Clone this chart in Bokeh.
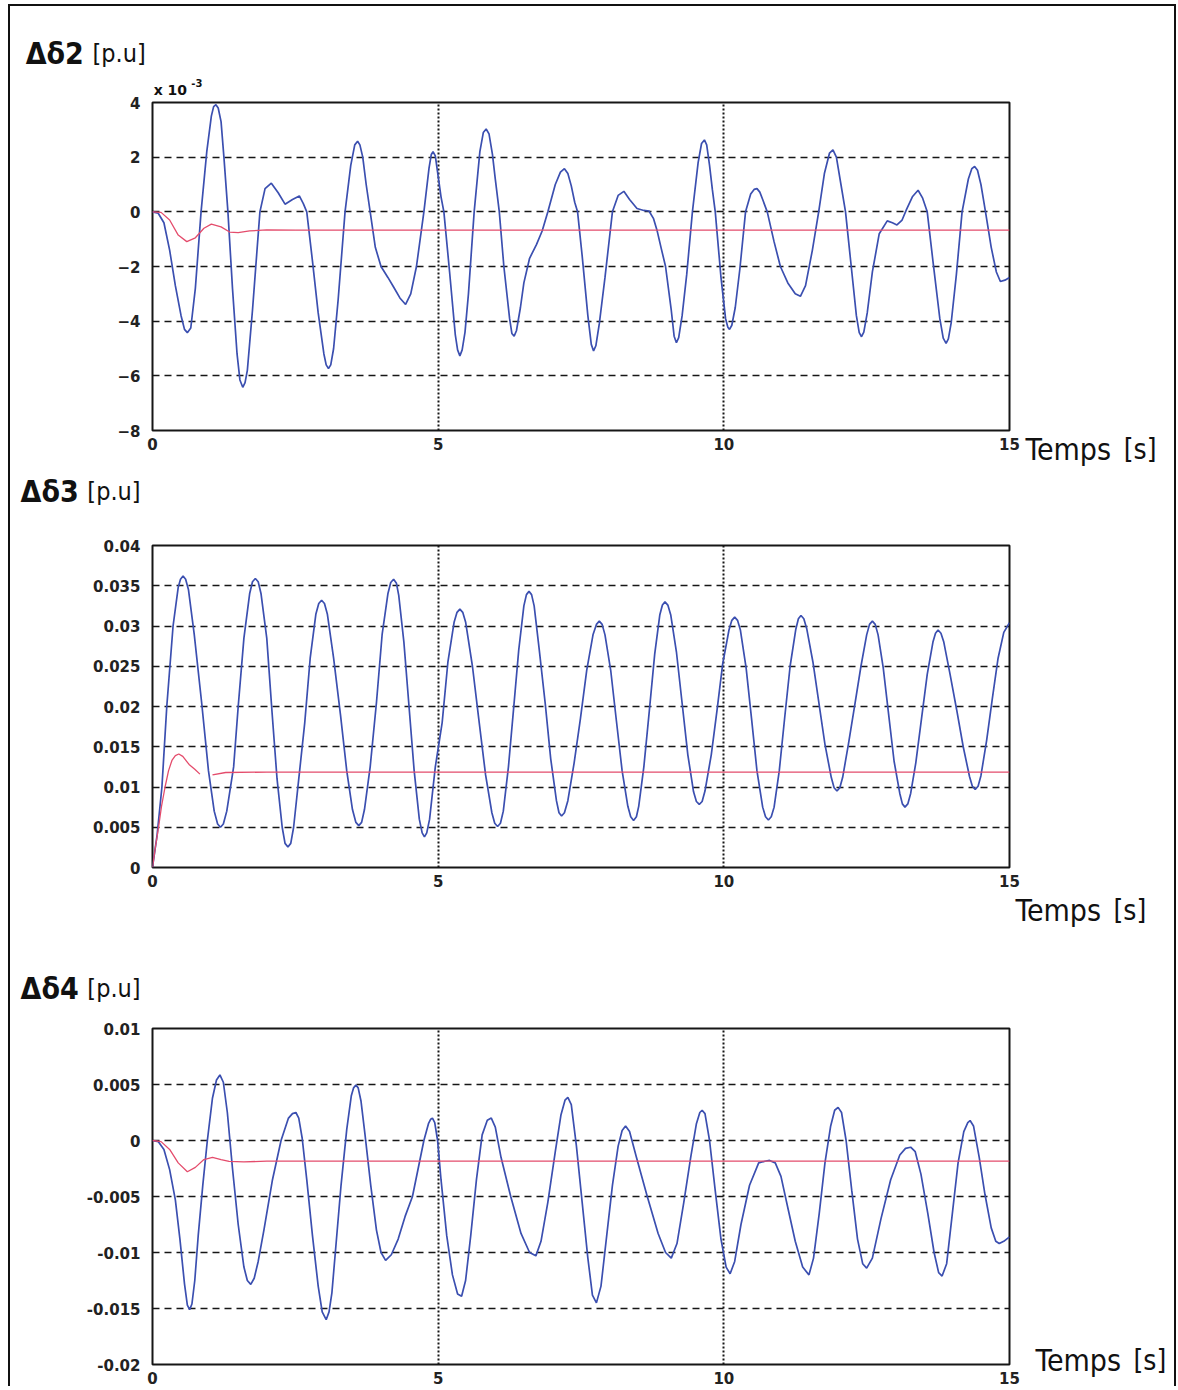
from bokeh.plotting import figure
from bokeh.models import Range1d, FixedTicker, Label
from bokeh.layouts import column
from bokeh.embed import file_html
from bokeh.resources import INLINE

# ---------------- data ----------------
x_ticks = [0, 5, 10, 15]

# Delta delta 2, units of 1e-3 p.u.
d2_ticks = [-8, -6, -4, -2, 0, 2, 4]
d2_sans_commande = [
    (0.00, 0.00), (0.10, -0.05), (0.20, -0.40), (0.30, -1.40), (0.40, -2.70), (0.50, -3.80), (0.56, -4.30),
    (0.61, -4.42), (0.67, -4.25), (0.75, -2.80), (0.85, 0.00), (0.95, 2.20), (1.03, 3.50), (1.07, 3.85),
    (1.11, 3.92), (1.15, 3.80), (1.20, 3.30), (1.25, 2.00), (1.32, 0.00), (1.40, -2.80), (1.48, -5.20),
    (1.53, -6.15), (1.58, -6.42), (1.62, -6.25), (1.66, -5.80), (1.75, -3.60), (1.88, 0.00), (1.97, 0.85),
    (2.08, 1.05), (2.20, 0.70), (2.32, 0.28), (2.45, 0.45), (2.57, 0.58), (2.64, 0.30), (2.70, 0.00),
    (2.80, -1.80), (2.90, -3.70), (3.00, -5.20), (3.04, -5.60), (3.08, -5.73), (3.12, -5.60), (3.17, -5.00),
    (3.25, -3.20), (3.37, 0.00), (3.47, 1.70), (3.54, 2.45), (3.59, 2.58), (3.63, 2.45), (3.68, 2.00),
    (3.74, 1.00), (3.81, 0.00), (3.90, -1.30), (4.00, -2.00), (4.12, -2.40), (4.22, -2.75), (4.33, -3.15),
    (4.43, -3.39), (4.52, -3.00), (4.62, -2.00), (4.75, 0.00), (4.84, 1.60), (4.88, 2.10), (4.91, 2.20),
    (4.95, 2.05), (5.00, 1.30), (5.05, 0.55), (5.10, 0.00), (5.20, -2.20), (5.30, -4.50), (5.34, -5.05),
    (5.38, -5.27), (5.42, -5.05), (5.47, -4.40), (5.53, -3.00), (5.63, 0.00), (5.73, 2.20), (5.79, 2.90),
    (5.84, 3.03), (5.89, 2.85), (5.95, 2.10), (6.00, 1.20), (6.07, 0.00), (6.15, -2.00), (6.25, -3.90),
    (6.29, -4.45), (6.33, -4.55), (6.37, -4.35), (6.44, -3.50), (6.50, -2.60), (6.60, -1.70), (6.72, -1.20),
    (6.82, -0.70), (6.92, 0.00), (7.05, 1.00), (7.14, 1.45), (7.21, 1.58), (7.27, 1.40), (7.33, 0.95),
    (7.39, 0.35), (7.44, 0.00), (7.52, -1.60), (7.62, -3.80), (7.68, -4.85), (7.72, -5.09), (7.76, -4.90),
    (7.82, -4.10), (7.92, -2.40), (8.05, 0.00), (8.15, 0.60), (8.25, 0.75), (8.35, 0.45), (8.48, 0.12),
    (8.60, 0.05), (8.69, 0.03), (8.77, -0.25), (8.83, -0.67), (8.90, -1.30), (8.98, -2.00), (9.08, -3.60),
    (9.13, -4.55), (9.17, -4.79), (9.21, -4.60), (9.27, -3.80), (9.35, -2.30), (9.45, 0.00), (9.55, 1.80),
    (9.61, 2.50), (9.66, 2.63), (9.70, 2.45), (9.75, 1.70), (9.80, 0.80), (9.85, 0.00), (9.95, -2.40),
    (10.03, -3.90), (10.07, -4.22), (10.10, -4.30), (10.14, -4.15), (10.20, -3.50), (10.28, -2.10),
    (10.38, 0.00), (10.47, 0.65), (10.53, 0.82), (10.58, 0.85), (10.63, 0.72), (10.68, 0.45), (10.76, 0.00),
    (10.88, -1.10), (10.99, -2.00), (11.12, -2.60), (11.25, -3.00), (11.34, -3.09), (11.43, -2.70),
    (11.55, -1.40), (11.66, 0.00), (11.76, 1.40), (11.85, 2.15), (11.91, 2.27), (11.97, 2.00), (12.05, 1.00),
    (12.13, 0.00), (12.22, -1.80), (12.32, -3.80), (12.37, -4.42), (12.41, -4.57), (12.45, -4.40),
    (12.51, -3.70), (12.60, -2.20), (12.72, -0.80), (12.86, -0.33), (12.95, -0.40), (13.03, -0.48),
    (13.12, -0.30), (13.20, 0.10), (13.30, 0.55), (13.40, 0.79), (13.48, 0.50), (13.56, 0.00), (13.66, -1.80),
    (13.78, -3.90), (13.84, -4.62), (13.89, -4.81), (13.93, -4.65), (13.98, -4.05), (14.07, -2.30),
    (14.17, 0.00), (14.28, 1.20), (14.34, 1.58), (14.39, 1.66), (14.44, 1.52), (14.50, 1.00), (14.54, 0.50),
    (14.58, 0.00), (14.68, -1.30), (14.77, -2.20), (14.84, -2.55), (14.92, -2.50), (15.00, -2.40),
]
d2_avec_commande = [
    (0.00, 0.00), (0.15, -0.02), (0.30, -0.30), (0.45, -0.85), (0.60, -1.09), (0.75, -0.95), (0.90, -0.60),
    (1.03, -0.45), (1.20, -0.55), (1.35, -0.74), (1.50, -0.76), (1.70, -0.70), (2.00, -0.66), (2.50, -0.67),
    (15.00, -0.67),
]

# Delta delta 3, p.u.
d3_ticks = [0, 0.005, 0.01, 0.015, 0.02, 0.025, 0.03, 0.035, 0.04]
d3_tick_labels = ["0", "0.005", "0.01", "0.015", "0.02", "0.025", "0.03", "0.035", "0.04"]
d3_sans_commande = [
    (0.00, 0.0), (0.08, 4.0), (0.165, 10.0), (0.25, 20.0), (0.36, 30.0), (0.45, 34.8), (0.49, 35.8),
    (0.535, 36.2), (0.58, 35.8), (0.63, 34.5), (0.73, 29.0), (0.86, 20.5), (0.98, 12.0), (1.08, 7.0),
    (1.14, 5.4), (1.19, 5.0), (1.24, 5.4), (1.30, 7.0), (1.42, 12.5), (1.50, 20.0), (1.60, 28.5),
    (1.70, 34.0), (1.75, 35.5), (1.80, 35.9), (1.85, 35.5), (1.90, 34.0), (2.00, 28.5), (2.09, 19.5),
    (2.18, 11.0), (2.27, 5.0), (2.32, 3.0), (2.37, 2.55), (2.42, 3.0), (2.47, 5.0), (2.56, 11.0),
    (2.665, 18.0), (2.76, 26.0), (2.86, 31.5), (2.91, 32.8), (2.96, 33.2), (3.01, 32.8), (3.06, 31.5),
    (3.17, 26.0), (3.29, 19.0), (3.40, 12.0), (3.50, 7.2), (3.56, 5.6), (3.61, 5.2), (3.66, 5.6),
    (3.71, 7.2), (3.81, 12.5), (3.92, 20.5), (4.02, 29.0), (4.12, 34.0), (4.17, 35.4), (4.22, 35.8),
    (4.27, 35.3), (4.31, 33.8), (4.40, 28.0), (4.49, 20.0), (4.58, 12.0), (4.67, 6.0), (4.72, 4.3),
    (4.76, 3.8), (4.80, 4.3), (4.85, 6.0), (4.95, 12.5), (5.07, 18.0), (5.17, 25.5), (5.28, 30.5),
    (5.33, 31.7), (5.38, 32.1), (5.43, 31.7), (5.48, 30.5), (5.60, 25.0), (5.71, 18.5), (5.83, 11.5),
    (5.94, 6.8), (5.99, 5.5), (6.04, 5.1), (6.09, 5.5), (6.14, 7.0), (6.23, 12.5), (6.32, 19.7),
    (6.41, 27.0), (6.50, 32.5), (6.545, 33.9), (6.59, 34.3), (6.635, 33.9), (6.68, 32.5), (6.77, 27.0),
    (6.875, 20.3), (6.97, 13.5), (7.07, 8.3), (7.115, 6.8), (7.16, 6.4), (7.21, 6.8), (7.27, 8.3),
    (7.38, 13.0), (7.49, 18.5), (7.60, 24.5), (7.71, 28.9), (7.77, 30.2), (7.82, 30.6), (7.87, 30.2),
    (7.92, 28.9), (8.02, 24.5), (8.12, 18.2), (8.22, 12.0), (8.32, 7.6), (8.37, 6.3), (8.42, 5.85),
    (8.47, 6.3), (8.51, 7.6), (8.60, 12.5), (8.695, 19.4), (8.79, 26.5), (8.88, 31.4), (8.925, 32.6),
    (8.97, 33.0), (9.02, 32.6), (9.07, 31.4), (9.17, 26.8), (9.27, 20.4), (9.37, 14.0), (9.47, 9.4),
    (9.52, 8.2), (9.57, 7.85), (9.62, 8.2), (9.67, 9.5), (9.78, 14.0), (9.88, 19.5), (9.98, 25.3),
    (10.09, 29.5), (10.14, 30.7), (10.19, 31.1), (10.24, 30.7), (10.29, 29.5), (10.39, 24.8),
    (10.485, 18.5), (10.58, 12.0), (10.68, 7.5), (10.73, 6.3), (10.78, 5.9), (10.83, 6.3), (10.88, 7.5),
    (10.97, 12.0), (11.065, 18.6), (11.16, 25.0), (11.26, 29.6), (11.305, 30.9), (11.35, 31.3),
    (11.40, 30.9), (11.45, 29.7), (11.56, 25.5), (11.665, 20.4), (11.77, 15.3), (11.88, 11.2),
    (11.93, 9.9), (11.98, 9.5), (12.03, 9.9), (12.08, 11.2), (12.18, 15.3), (12.29, 20.1), (12.40, 25.0),
    (12.50, 28.9), (12.55, 30.2), (12.60, 30.6), (12.65, 30.2), (12.70, 28.9), (12.79, 24.8),
    (12.885, 19.0), (12.98, 13.2), (13.08, 9.2), (13.125, 7.9), (13.17, 7.5), (13.22, 7.9), (13.27, 9.2),
    (13.36, 13.0), (13.46, 18.5), (13.56, 24.0), (13.66, 28.0), (13.705, 29.1), (13.75, 29.5),
    (13.80, 29.1), (13.85, 28.0), (13.96, 24.0), (14.075, 19.6), (14.19, 15.0), (14.30, 11.3),
    (14.35, 10.1), (14.40, 9.7), (14.45, 10.1), (14.50, 11.4), (14.60, 15.8), (14.70, 21.0), (14.80, 26.0),
    (14.90, 29.2), (15.00, 30.4),
]  # units of 1e-3
d3_avec_commande = [
    (0.00, 0.0), (0.05, 2.5), (0.106, 5.0), (0.16, 7.7), (0.22, 10.0), (0.28, 12.0), (0.34, 13.3),
    (0.40, 13.9), (0.46, 14.1), (0.53, 13.8), (0.64, 12.8), (0.74, 12.2), (0.83, 11.6),
    (0.90, float("nan")),
    (1.05, 11.5), (1.28, 11.8), (2.00, 11.85), (15.00, 11.85),
]  # units of 1e-3

# Delta delta 4, p.u.
d4_ticks = [-0.02, -0.015, -0.01, -0.005, 0, 0.005, 0.01]
d4_tick_labels = ["-0.02", "-0.015", "-0.01", "-0.005", "0", "0.005", "0.01"]
d4_sans_commande = [
    (0.00, 0.0), (0.10, -0.1), (0.20, -0.8), (0.30, -2.6), (0.40, -5.3), (0.48, -8.8), (0.56, -12.8),
    (0.61, -14.7), (0.65, -15.1), (0.69, -14.6), (0.74, -12.5), (0.80, -8.5), (0.88, -4.0), (0.96, 0.0),
    (1.05, 3.8), (1.12, 5.4), (1.18, 5.85), (1.24, 5.2), (1.31, 2.5), (1.40, -2.5), (1.50, -7.5),
    (1.60, -11.3), (1.66, -12.5), (1.72, -12.85), (1.78, -12.3), (1.85, -10.8), (1.95, -8.0), (2.10, -3.5),
    (2.25, 0.0), (2.38, 2.0), (2.45, 2.4), (2.51, 2.5), (2.56, 2.0), (2.62, 0.2), (2.70, -3.5), (2.80, -8.5),
    (2.90, -13.0), (2.97, -15.3), (3.04, -16.0), (3.09, -15.3), (3.14, -13.6), (3.20, -10.0), (3.30, -4.0),
    (3.40, 1.0), (3.48, 4.0), (3.52, 4.7), (3.56, 4.95), (3.60, 4.7), (3.65, 3.5), (3.72, 0.5), (3.82, -4.0),
    (3.92, -8.0), (4.00, -10.0), (4.08, -10.7), (4.18, -10.2), (4.30, -8.8), (4.42, -6.8), (4.55, -5.0),
    (4.65, -2.5), (4.75, 0.0), (4.83, 1.5), (4.87, 1.9), (4.90, 2.0), (4.94, 1.6), (4.99, 0.0), (5.05, -3.5),
    (5.15, -8.5), (5.25, -12.0), (5.34, -13.7), (5.41, -13.9), (5.48, -12.5), (5.57, -8.5), (5.67, -3.5),
    (5.77, 0.5), (5.86, 1.8), (5.93, 2.0), (6.00, 1.2), (6.10, -1.5), (6.27, -5.0), (6.45, -8.3),
    (6.60, -10.0), (6.71, -10.3), (6.80, -9.0), (6.92, -5.5), (7.05, -1.0), (7.15, 2.3), (7.22, 3.6),
    (7.27, 3.85), (7.33, 3.2), (7.42, -0.5), (7.52, -5.5), (7.62, -10.5), (7.70, -13.8), (7.77, -14.5),
    (7.85, -13.0), (7.95, -8.5), (8.05, -4.0), (8.15, -0.5), (8.22, 0.9), (8.28, 1.3), (8.35, 0.8),
    (8.47, -1.5), (8.66, -5.0), (8.85, -8.3), (8.98, -10.0), (9.08, -10.5), (9.18, -9.2), (9.30, -5.5),
    (9.42, -1.5), (9.52, 1.5), (9.58, 2.5), (9.62, 2.7), (9.67, 2.4), (9.75, 0.0), (9.85, -4.5),
    (9.95, -8.8), (10.04, -11.3), (10.11, -11.9), (10.19, -10.8), (10.30, -7.5), (10.45, -4.0),
    (10.61, -2.0), (10.72, -1.85), (10.80, -1.78), (10.90, -2.0), (11.00, -3.2), (11.12, -6.0),
    (11.25, -9.0), (11.38, -11.3), (11.49, -12.0), (11.57, -10.5), (11.67, -6.5), (11.77, -2.0),
    (11.87, 1.3), (11.94, 2.7), (12.00, 2.96), (12.06, 2.5), (12.14, 0.0), (12.24, -4.5), (12.34, -8.8),
    (12.43, -11.0), (12.50, -11.4), (12.60, -10.5), (12.75, -7.0), (12.92, -3.5), (13.08, -1.3),
    (13.18, -0.7), (13.27, -0.6), (13.35, -1.0), (13.45, -3.0), (13.57, -6.5), (13.68, -10.0),
    (13.76, -11.8), (13.82, -12.1), (13.90, -11.0), (14.00, -6.5), (14.10, -2.0), (14.20, 0.8),
    (14.27, 1.6), (14.31, 1.78), (14.37, 1.3), (14.47, -1.5), (14.57, -4.8), (14.68, -7.8), (14.76, -9.0),
    (14.82, -9.2), (14.90, -9.0), (15.00, -8.6),
]  # units of 1e-3
d4_avec_commande = [
    (0.00, 0.0), (0.15, -0.1), (0.30, -0.8), (0.45, -2.0), (0.61, -2.79), (0.75, -2.4), (0.90, -1.7),
    (1.05, -1.51), (1.20, -1.7), (1.34, -1.87), (1.60, -1.9), (2.00, -1.85), (15.00, -1.85),
]  # units of 1e-3

# ---------------- styling ----------------
BLUE = "#3b4fb0"
RED = "#e44c6c"
INK = "#161616"
TICK_FONT = "DejaVu Sans"
TXT_FONT = "DejaVu Sans Condensed"
W = 1164
LEFT = 142
RIGHT = 165


def unzip(pairs, scale=1.0):
    t = [p[0] for p in pairs]
    v = [p[1] * scale for p in pairs]
    return t, v


def make_fig(height, top, bottom, yr, yticks, ylabels=None):
    p = figure(width=W, height=height, x_range=Range1d(0, 15), y_range=Range1d(*yr),
               output_backend="svg", toolbar_location=None, title=None,
               min_border_left=LEFT, min_border_right=RIGHT,
               min_border_top=top, min_border_bottom=bottom)
    p.background_fill_color = "white"
    p.border_fill_color = "white"
    p.outline_line_color = INK
    p.outline_line_width = 2
    for ax in (p.xaxis[0], p.yaxis[0]):
        ax.axis_line_color = None
        ax.major_tick_line_color = None
        ax.minor_tick_line_color = None
        ax.major_label_text_font = TICK_FONT
        ax.major_label_text_font_size = "15px"
        ax.major_label_text_font_style = "bold"
        ax.major_label_text_color = "#222222"
    p.xaxis.ticker = FixedTicker(ticks=x_ticks)
    p.xaxis.major_label_standoff = 1
    p.yaxis.ticker = FixedTicker(ticks=yticks)
    p.yaxis.major_label_standoff = 6
    if ylabels is not None:
        p.yaxis.major_label_overrides = {t: s for t, s in zip(yticks, ylabels)}
    p.xgrid.ticker = FixedTicker(ticks=x_ticks[1:-1])
    p.xgrid.grid_line_color = INK
    p.xgrid.grid_line_width = 2
    p.xgrid.grid_line_dash = "2 2"
    p.ygrid.ticker = FixedTicker(ticks=yticks[1:-1])
    p.ygrid.grid_line_color = INK
    p.ygrid.grid_line_width = 1.5
    p.ygrid.grid_line_dash = "7 5"
    return p


def add_text(p, place, x, y, text, size, style="normal", font=TXT_FONT):
    p.add_layout(Label(x=x, y=y, text=text, text_font=font, text_font_size=size,
                       text_font_style=style, text_color="#111111",
                       text_align="left", text_baseline="alphabetic"), place)


# ---- figure 1 ----
p1 = make_fig(464, 96, 40, (-8, 4), d2_ticks)
t, v = unzip(d2_sans_commande)
p1.line(t, v, color=BLUE, line_width=1.7)
t, v = unzip(d2_avec_commande)
p1.line(t, v, color=RED, line_width=1.3)
add_text(p1, "above", -2.22, 5.81, "Δδ2", "30px", "bold")
add_text(p1, "above", -1.05, 5.81, "[p.u]", "25px")
add_text(p1, "above", 0.02, 4.45, "x 10", "14px", "bold", TICK_FONT)
add_text(p1, "above", 0.68, 4.70, "-3", "10px", "bold", TICK_FONT)
add_text(p1, "right", 15.28, -8.69, "Temps", "30px")
add_text(p1, "right", 17.0, -8.69, "[s]", "28px")

# ---- figure 2 ----
p2 = make_fig(466, 75, 69, (0, 0.04), d3_ticks, d3_tick_labels)
t, v = unzip(d3_sans_commande, 1e-3)
p2.line(t, v, color=BLUE, line_width=1.7)
t, v = unzip(d3_avec_commande, 1e-3)
p2.line(t, v, color=RED, line_width=1.3)
add_text(p2, "above", -2.31, 0.04677, "Δδ3", "30px", "bold")
add_text(p2, "above", -1.14, 0.04677, "[p.u]", "25px")
add_text(p2, "right", 15.105, -0.00534, "Temps", "30px")
add_text(p2, "right", 16.82, -0.00534, "[s]", "28px")

# ---- figure 3 ----
p3 = make_fig(450, 92, 20, (-0.02, 0.01), d4_ticks, d4_tick_labels)
t, v = unzip(d4_sans_commande, 1e-3)
p3.line(t, v, color=BLUE, line_width=1.7)
t, v = unzip(d4_avec_commande, 1e-3)
p3.line(t, v, color=RED, line_width=1.3)
add_text(p3, "above", -2.31, 0.01361, "Δδ4", "30px", "bold")
add_text(p3, "above", -1.14, 0.01361, "[p.u]", "25px")
add_text(p3, "right", 15.456, -0.01965, "Temps", "30px")
add_text(p3, "right", 17.17, -0.01965, "[s]", "28px")

layout = column(p1, p2, p3, spacing=0,
                styles={"margin-left": "8px", "margin-top": "4px",
                        "border-left": "2px solid #111", "border-top": "2px solid #111",
                        "border-right": "2px solid #111"})

open("out.html", "w").write(file_html(layout, INLINE))
